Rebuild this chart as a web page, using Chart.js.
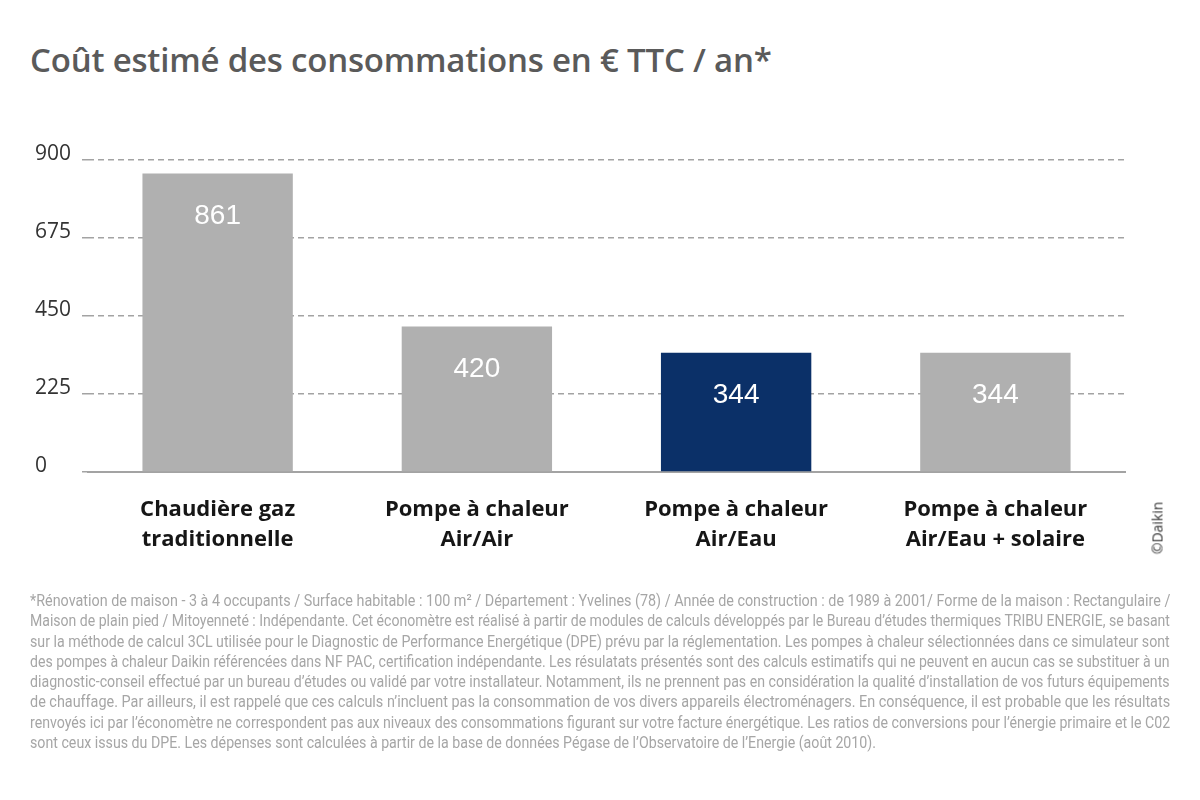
<!DOCTYPE html>
<html lang="fr">
<head>
<meta charset="utf-8">
<title>Coût estimé des consommations</title>
<script src="https://cdn.jsdelivr.net/npm/chart.js@4.4.1/dist/chart.umd.min.js"></script>
<style>
  html, body { margin: 0; padding: 0; background: #fff; }
  body { width: 1200px; height: 800px; position: relative; overflow: hidden; }
  #chart { position: absolute; left: 0; top: 0; }
  h1 {
    position: absolute; left: 30px; top: 37px; margin: 0;
    font: 600 33px 'Open Sans', sans-serif; color: #5a5a5a; letter-spacing: -0.2px;
  }
  .credit {
    position: absolute; left: 1157px; top: 528px;
    transform: translate(-50%, -50%) rotate(-90deg);
    font: 14px 'Open Sans', sans-serif; color: #333; white-space: nowrap;
  }
  .note {
    position: absolute; left: 30px; top: 590px; width: 1140px;
    font: 400 17px 'Roboto', sans-serif;
    color: #a6a6a6; line-height: 20.3px;
  }
  .note span { display: inline-block; white-space: nowrap; transform-origin: 0 0; }
</style>
</head>
<body>
<h1>Coût estimé des consommations en € TTC / an*</h1>
<canvas id="chart" width="1200" height="800"></canvas>
<div class="credit">©Daikin</div>
<div class="note" id="note">
  <div><span>*Rénovation de maison - 3 à 4 occupants / Surface habitable : 100 m² / Département : Yvelines (78) / Année de construction : de 1989 à 2001/ Forme de la maison : Rectangulaire /</span></div>
  <div><span>Maison de plain pied / Mitoyenneté : Indépendante. Cet économètre est réalisé à partir de modules de calculs développés par le Bureau d’études thermiques TRIBU ENERGIE, se basant</span></div>
  <div><span>sur la méthode de calcul 3CL utilisée pour le Diagnostic de Performance Energétique (DPE) prévu par la réglementation. Les pompes à chaleur sélectionnées dans ce simulateur sont</span></div>
  <div><span>des pompes à chaleur Daikin référencées dans NF PAC, certification indépendante. Les résulatats présentés sont des calculs estimatifs qui ne peuvent en aucun cas se substituer à un</span></div>
  <div><span>diagnostic-conseil effectué par un bureau d’études ou validé par votre installateur. Notamment, ils ne prennent pas en considération la qualité d’installation de vos futurs équipements</span></div>
  <div><span>de chauffage. Par ailleurs, il est rappelé que ces calculs n’incluent pas la consommation de vos divers appareils électroménagers. En conséquence, il est probable que les résultats</span></div>
  <div><span>renvoyés ici par l’économètre ne correspondent pas aux niveaux des consommations figurant sur votre facture énergétique. Les ratios de conversions pour l’énergie primaire et le C02</span></div>
  <div><span>sont ceux issus du DPE. Les dépenses sont calculées à partir de la base de données Pégase de l’Observatoire de l’Energie (août 2010).</span></div>
</div>
<script>
  // Data
  const categories = [
    ['Chaudière gaz', 'traditionnelle'],
    ['Pompe à chaleur', 'Air/Air'],
    ['Pompe à chaleur', 'Air/Eau'],
    ['Pompe à chaleur', 'Air/Eau + solaire']
  ];
  const costs = [861, 420, 344, 344];
  const barColors = ['#b0b0b0', '#b0b0b0', '#0b3068', '#b0b0b0'];
  const yTicks = [0, 225, 450, 675, 900];

  // Footnote: fit every full line to the block width (condensed look)
  (function fitNote() {
    const spans = document.querySelectorAll('#note span');
    const full = 1140;
    let sum = 0;
    spans.forEach(function (s, i) {
      if (i === spans.length - 1) return;
      const k = full / s.offsetWidth;
      sum += k;
      s.style.transform = 'scaleX(' + k + ')';
    });
    spans[spans.length - 1].style.transform = 'scaleX(' + (sum / (spans.length - 1)) + ')';
  }());

  // White value inside the top of each bar
  const valueLabels = {
    id: 'valueLabels',
    afterDatasetsDraw(chart) {
      const ctx = chart.ctx;
      const meta = chart.getDatasetMeta(0);
      ctx.save();
      ctx.fillStyle = '#ffffff';
      ctx.font = "28px 'Liberation Sans', Arial, sans-serif";
      ctx.textAlign = 'center';
      ctx.textBaseline = 'middle';
      meta.data.forEach(function (bar, i) {
        ctx.fillText(String(costs[i]), bar.x, bar.y + 43);
      });
      ctx.restore();
    }
  };

  new Chart(document.getElementById('chart'), {
    type: 'bar',
    data: {
      labels: categories,
      datasets: [{
        data: costs,
        backgroundColor: barColors,
        borderWidth: 0,
        barPercentage: 0.58,
        categoryPercentage: 1
      }]
    },
    options: {
      responsive: false,
      animation: false,
      layout: { padding: { left: 35, top: 160, right: 75, bottom: 228 } },
      plugins: { legend: { display: false }, tooltip: { enabled: false } },
      scales: {
        x: {
          grid: { display: false },
          border: { display: true, color: '#a3a3a3', width: 2 },
          ticks: {
            color: '#161616',
            padding: 15,
            font: { family: "'Open Sans', sans-serif", size: 22, weight: 'bold', lineHeight: 1.36 }
          },
          afterFit(scale) { scale.height = 100; }
        },
        y: {
          min: 0,
          max: 900,
          afterBuildTicks(scale) { scale.ticks = yTicks.map(v => ({ value: v })); },
          border: { display: false, dash: [6, 4] },
          grid: {
            color: '#a3a3a3',
            lineWidth: 1.5,
            tickLength: 6,
            tickBorderDash: [6, 4]
          },
          ticks: {
            color: '#333333',
            crossAlign: 'far',
            labelOffset: -6,
            font: { family: "'Open Sans', sans-serif", size: 21 }
          },
          afterFit(scale) { scale.width = 53; }
        }
      }
    },
    plugins: [valueLabels]
  });
</script>
</body>
</html>
